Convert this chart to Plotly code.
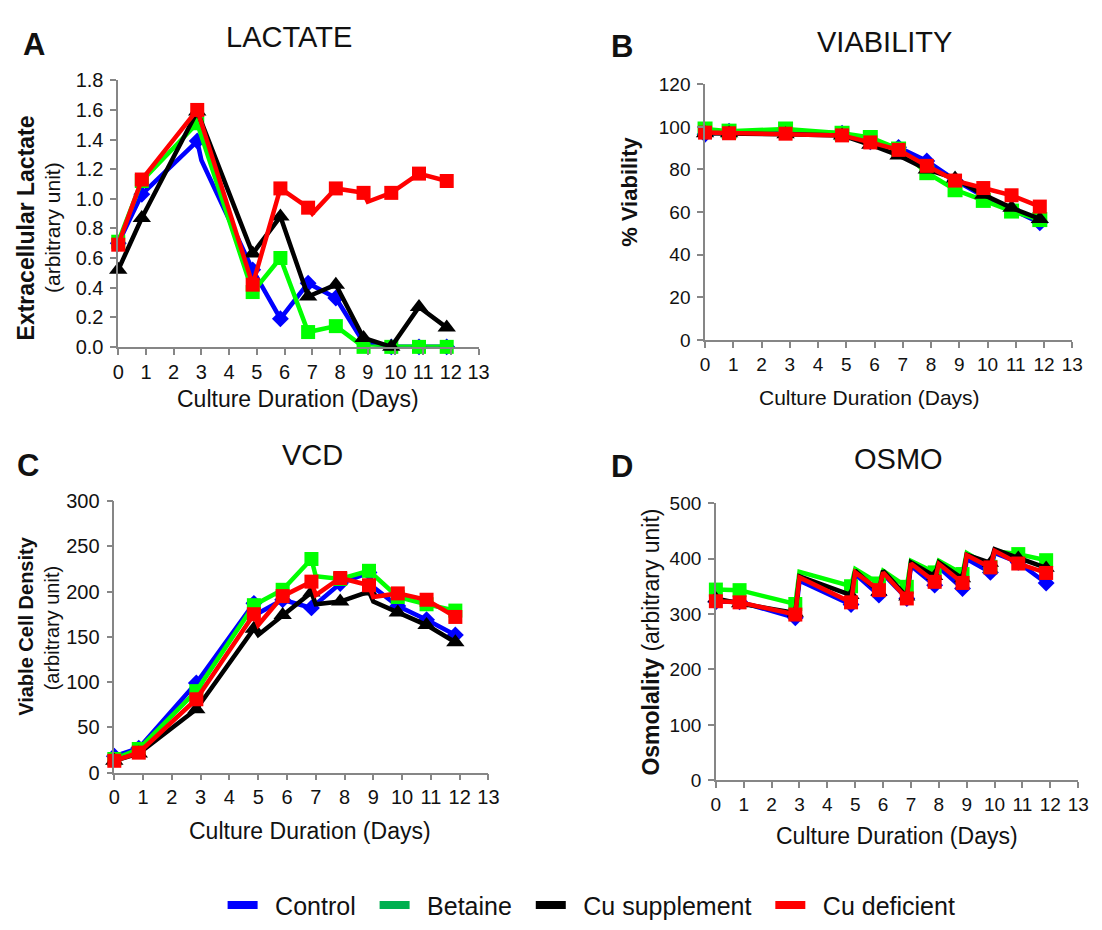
import plotly.graph_objects as go

W, H = 1102, 930
FONT = "Liberation Sans, Arial, Helvetica, sans-serif"

# ---------------- data ----------------
days = [0, 0.85, 2.85, 4.85, 5.85, 6.85, 7.85, 8.85, 9.85, 10.85, 11.85]
day_ticks = list(range(14))

series_names = ["Control", "Betaine", "Cu supplement", "Cu deficient"]
line_colors = ["#0000FF", "#00FF00", "#000000", "#FF0000"]
legend_colors = ["#0000FF", "#00B050", "#000000", "#FF0000"]
symbols = ["diamond", "square", "triangle-up", "square"]

# A  Lactate (arbitrary unit)
lactate_control = [0.70, 1.03, 1.39, 0.52, 0.19, 0.43, 0.33, 0.03, 0.0, 0.0, 0.0]
lactate_betaine = [0.71, 1.12, 1.51, 0.37, 0.60, 0.10, 0.14, 0.0, 0.0, 0.0, 0.0]
lactate_cu_supp = [0.52, 0.87, 1.59, 0.63, 0.88, 0.34, 0.42, 0.06, 0.0, 0.27, 0.13]
lactate_cu_def = [0.69, 1.13, 1.60, 0.42, 1.07, 0.94, 1.07, 1.04, 1.04, 1.17, 1.12]
# post-feed points (unmarked)
lactate_control_feed_x, lactate_control_feed_y = [3.0], [1.26]
lactate_betaine_feed_x, lactate_betaine_feed_y = [], []
lactate_cu_supp_feed_x, lactate_cu_supp_feed_y = [], []
lactate_cu_def_feed_x, lactate_cu_def_feed_y = [7.0, 9.0], [0.90, 0.98]

# B  Viability (%)
viab_control = [96.5, 98, 98, 97, 93, 90.4, 84, 75, 67.5, 61.5, 55]
viab_betaine = [99, 98, 99, 97, 95, 89.6, 78.5, 70.5, 65.5, 60.5, 56.5]
viab_cu_supp = [97, 97, 96.5, 96, 91.6, 86.6, 80, 75.8, 68.2, 62, 56.8]
viab_cu_def = [97.3, 97, 96.8, 96, 92.7, 89.2, 81.7, 74.8, 71.3, 67.9, 62.6]

# C  Viable cell density (arbitrary unit)
vcd_control = [18, 27, 99, 187, 191, 182, 209, 221, 184, 169, 152]
vcd_betaine = [15, 26, 90, 185, 202, 236, 214, 223, 194, 186, 179]
vcd_cu_supp = [13, 21, 70, 159, 174, 199, 189, 200, 177, 163, 144]
vcd_cu_def = [13, 22, 81, 175, 195, 211, 215, 207, 198, 191, 172]
vcd_control_feed_x, vcd_control_feed_y = [5.0, 9.0], [176, 205]
vcd_betaine_feed_x, vcd_betaine_feed_y = [7.0], [217]
vcd_cu_supp_feed_x, vcd_cu_supp_feed_y = [5.0, 7.0, 9.0], [152, 186, 189]
vcd_cu_def_feed_x, vcd_cu_def_feed_y = [5.0, 7.0, 9.0], [163, 196, 194]

# D  Osmolality (arbitrary unit)
osmo_control = [322, 322, 293, 317, 334, 328, 352, 346, 375, 393, 356]
osmo_betaine = [344, 343, 318, 350, 355, 349, 375, 372, 385, 408, 397]
osmo_cu_supp = [328, 319, 302, 334, 340, 331, 368, 364, 392, 401, 383]
osmo_cu_def = [323, 321, 299, 321, 343, 328, 358, 356, 384, 391, 374]
osmo_feed_days = [3.0, 5.0, 6.0, 7.0, 8.0, 9.0, 10.0]
osmo_control_feed = [360, 372, 372, 387, 384, 399, 410]
osmo_betaine_feed = [376, 381, 378, 396, 396, 410, 413]
osmo_cu_supp_feed = [368, 378, 378, 393, 393, 407, 417]
osmo_cu_def_feed = [366, 375, 375, 391, 390, 406, 414]

# ---------------- layout geometry (pixels) ----------------
def dx(a, b):
    return [a / W, b / W]

def dy(top, bottom):
    return [1 - bottom / H, 1 - top / H]

def px(x):
    return x / W

def py(y):
    return 1 - y / H

panels = [
    dict(n=1, xd=(114, 480), yd=(71, 344), yr=[0, 1.8], dt=0.2, fmt=".1f", fs=20,
         data=[lactate_control, lactate_betaine, lactate_cu_supp, lactate_cu_def],
         feed=[(lactate_control_feed_x, lactate_control_feed_y),
               (lactate_betaine_feed_x, lactate_betaine_feed_y),
               (lactate_cu_supp_feed_x, lactate_cu_supp_feed_y),
               (lactate_cu_def_feed_x, lactate_cu_def_feed_y)],
         msize=[13, 14, 16, 14]),
    dict(n=2, xd=(710, 1083), yd=(75, 337), yr=[0, 120], dt=20, fmt="d", fs=19,
         data=[viab_control, viab_betaine, viab_cu_supp, viab_cu_def],
         feed=[([], []), ([], []), ([], []), ([], [])],
         msize=[13, 15, 16, 14]),
    dict(n=3, xd=(110, 490), yd=(502, 780), yr=[0, 300], dt=50, fmt="d", fs=20,
         data=[vcd_control, vcd_betaine, vcd_cu_supp, vcd_cu_def],
         feed=[(vcd_control_feed_x, vcd_control_feed_y),
               (vcd_betaine_feed_x, vcd_betaine_feed_y),
               (vcd_cu_supp_feed_x, vcd_cu_supp_feed_y),
               (vcd_cu_def_feed_x, vcd_cu_def_feed_y)],
         msize=[13, 14, 16, 14]),
    dict(n=4, xd=(721, 1089), yd=(504, 788), yr=[0, 500], dt=100, fmt="d", fs=19,
         data=[osmo_control, osmo_betaine, osmo_cu_supp, osmo_cu_def],
         feed=[(osmo_feed_days, osmo_control_feed),
               (osmo_feed_days, osmo_betaine_feed),
               (osmo_feed_days, osmo_cu_supp_feed),
               (osmo_feed_days, osmo_cu_def_feed)],
         msize=[13, 14, 15, 14]),
]

fig = go.Figure()
layout_axes = {}
AX_COLOR = "#868686"

for p in panels:
    n = p["n"]
    xa = "x" if n == 1 else f"x{n}"
    ya = "y" if n == 1 else f"y{n}"
    for i in range(4):
        fx, fy = p["feed"][i]
        pts = [(x, y, p["msize"][i]) for x, y in zip(days, p["data"][i])]
        pts += [(x, y, 0) for x, y in zip(fx, fy)]
        pts.sort(key=lambda t: t[0])
        fig.add_trace(go.Scatter(
            x=[t[0] for t in pts], y=[t[1] for t in pts],
            mode="lines+markers",
            line=dict(color=line_colors[i], width=4.5),
            marker=dict(symbol=symbols[i], color=line_colors[i], opacity=1,
                        size=[t[2] for t in pts], line=dict(width=0)),
            name=series_names[i], showlegend=False, cliponaxis=False,
            xaxis=xa, yaxis=ya, hoverinfo="skip"))
    xkey = "xaxis" if n == 1 else f"xaxis{n}"
    ykey = "yaxis" if n == 1 else f"yaxis{n}"
    tf = dict(family=FONT, size=p["fs"], color="#111")
    layout_axes[xkey] = dict(
        domain=dx(*p["xd"]), anchor=ya, range=[0, 13], tickvals=day_ticks,
        showline=True, linecolor=AX_COLOR, linewidth=1.5, ticks="outside",
        ticklen=6, tickwidth=1.5, tickcolor=AX_COLOR, showgrid=False,
        zeroline=False, tickfont=tf, fixedrange=True)
    layout_axes[ykey] = dict(
        domain=dy(*p["yd"]), anchor=xa, range=p["yr"], dtick=p["dt"],
        tick0=0, tickformat=p["fmt"], ticklabelstandoff=3,
        showline=True, linecolor=AX_COLOR, linewidth=1.5, ticks="outside",
        ticklen=6, tickwidth=1.5, tickcolor=AX_COLOR, showgrid=False,
        zeroline=False, tickfont=tf, fixedrange=True)

# legend-only entries
for i in range(4):
    fig.add_trace(go.Scatter(
        x=[None], y=[None], mode="lines",
        line=dict(color=legend_colors[i], width=8),
        name="\u2002" + series_names[i] + "\u00a0\u00a0",
        showlegend=True, hoverinfo="skip"))

ann = []

def text(x, y, s, size, bold=False, angle=0):
    ann.append(dict(x=px(x), y=py(y), xref="paper", yref="paper",
                    text=(f"<b>{s}</b>" if bold else s), showarrow=False,
                    xanchor="center", yanchor="middle", textangle=angle,
                    font=dict(family=FONT, size=size, color="#111")))

# panel titles
text(287, 27, "LACTATE", 29)
text(892, 32, "VIABILITY", 29)
text(311, 455, "VCD", 29)
text(906, 459, "OSMO", 29)
# panel letters
text(28, 34, "A", 31, bold=True)
text(626, 36, "B", 31, bold=True)
text(22, 466, "C", 31, bold=True)
text(626, 467, "D", 31, bold=True)
# x titles
text(297, 397, "Culture Duration (Days)", 23)
text(877, 396, "Culture Duration (Days)", 21)
text(309, 840, "Culture Duration (Days)", 23)
text(905, 845, "Culture Duration (Days)", 23)
# y titles
text(20, 222, "Extracellular Lactate", 23, bold=True, angle=-90)
text(47, 222, "(arbitrary unit)", 21, angle=-90)
text(633, 185, "% Viability", 22, bold=True, angle=-90)
text(20, 630, "Viable Cell Density", 20, bold=True, angle=-90)
text(47, 632, "(arbitrary unit)", 20, angle=-90)
ann.append(dict(x=px(655), y=py(646), xref="paper", yref="paper",
                text="<b>Osmolality</b> (arbitrary unit)", showarrow=False,
                xanchor="center", yanchor="middle", textangle=-90,
                font=dict(family=FONT, size=23, color="#111")))

fig.update_layout(
    width=W, height=H,
    margin=dict(l=0, r=0, t=0, b=0),
    paper_bgcolor="white", plot_bgcolor="white",
    showlegend=True,
    legend=dict(orientation="h", x=px(220), y=py(916), xanchor="left",
                yanchor="middle", font=dict(family=FONT, size=25, color="#111"),
                bgcolor="rgba(0,0,0,0)", borderwidth=0, itemclick=False,
                itemdoubleclick=False),
    annotations=ann,
    **layout_axes,
)

fig.write_html("out.html", config={"displayModeBar": False},
               post_script="document.body.style.margin='0';")
